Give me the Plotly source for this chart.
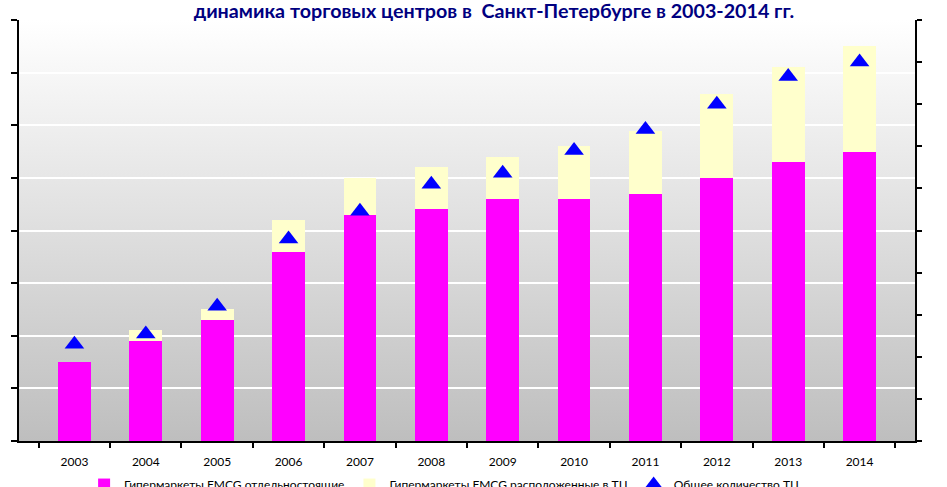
import base64
import plotly.graph_objects as go

# ---- data ----
years = ['2003', '2004', '2005', '2006', '2007', '2008',
         '2009', '2010', '2011', '2012', '2013', '2014']
standalone = [15, 19, 23, 36, 43, 44, 46, 46, 47, 50, 53, 55]      # Гипермаркеты FMCG отдельностоящие
in_malls = [0, 2, 2, 6, 7, 8, 8, 10, 12, 16, 18, 20]                # Гипермаркеты FMCG расположенные в ТЦ
malls_total = [23, 25.4, 32, 48, 54.6, 61, 63.6, 69, 74, 80, 86.6, 90]  # Общее количество ТЦ

title_text = 'динамика торговых центров в  Санкт-Петербурге в 2003-2014 гг.'
name_standalone = 'Гипермаркеты FMCG отдельностоящие'
name_in_malls = 'Гипермаркеты FMCG расположенные в ТЦ'
name_total = 'Общее количество ТЦ'

FONT = 'Lato, Liberation Sans, sans-serif'

# vertical gradient background for the plot area
svg = ('<svg xmlns="http://www.w3.org/2000/svg" width="100" height="100" '
       'preserveAspectRatio="none"><defs><linearGradient id="g" x1="0" y1="0" x2="0" y2="1">'
       '<stop offset="0" stop-color="#ffffff"/><stop offset="1" stop-color="#bebebe"/>'
       '</linearGradient></defs><rect width="100" height="100" fill="url(#g)"/></svg>')
bg_src = 'data:image/svg+xml;base64,' + base64.b64encode(svg.encode()).decode()

fig = go.Figure()
fig.add_trace(go.Bar(x=years, y=standalone, name=name_standalone,
                     marker=dict(color='#FF00FF', line=dict(width=0))))
fig.add_trace(go.Bar(x=years, y=in_malls, name=name_in_malls,
                     marker=dict(color='#FFFFCC', line=dict(width=0))))
fig.add_trace(go.Scatter(x=years, y=malls_total, name=name_total, yaxis='y2',
                         mode='markers',
                         marker=dict(symbol='triangle-up', size=17, color='#0000FF',
                                     line=dict(width=0))))

fig.update_layout(
    width=947, height=487,
    margin=dict(l=19, r=32, t=20, b=46, pad=0, autoexpand=False),
    paper_bgcolor='white',
    plot_bgcolor='rgba(0,0,0,0)',
    barmode='stack',
    bargap=0.54,
    font=dict(family=FONT, size=12, color='black'),
    title=dict(text=title_text, x=0.5216, xref='container', xanchor='center',
               y=1 - 4 / 487, yref='container', yanchor='top',
               font=dict(family=FONT, size=19.7, color='#000080', weight='bold')),
    xaxis=dict(type='category', showline=True, linecolor='black', linewidth=2,
               ticks='outside', tickson='boundaries', ticklen=5, tickcolor='black',
               tickwidth=2, showgrid=False, ticklabelstandoff=9,
               tickfont=dict(size=12, color='black')),
    yaxis=dict(range=[0, 80], dtick=10, showline=True, linecolor='black', linewidth=2,
               ticks='outside', ticklen=6, tickwidth=2, tickcolor='black',
               showticklabels=False, showgrid=True, gridcolor='white', gridwidth=1.5,
               zeroline=False),
    yaxis2=dict(range=[0, 100], dtick=10, overlaying='y', side='right', showline=True,
                linecolor='black', linewidth=2, ticks='outside', ticklen=5, tickwidth=2,
                tickcolor='black', showticklabels=False, showgrid=False, zeroline=False),
    legend=dict(orientation='h', x=0.475, xanchor='center', y=-0.069, yanchor='top',
                font=dict(size=12, color='black'), bgcolor='rgba(0,0,0,0)',
                traceorder='normal', itemwidth=30),
    showlegend=True,
    images=[dict(source=bg_src, xref='paper', yref='paper', x=0, y=1, sizex=1, sizey=1,
                 xanchor='left', yanchor='top', sizing='stretch', layer='below')],
)

fig.write_html('out.html', config={'displayModeBar': False},
               post_script="document.body.style.margin='0';")
